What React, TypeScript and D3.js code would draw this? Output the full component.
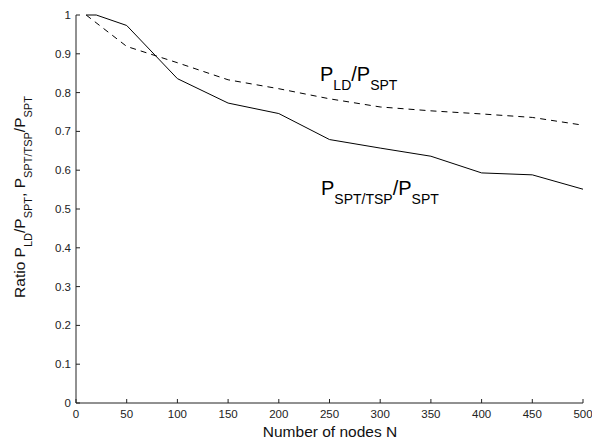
import React from "react";
import * as d3 from "d3";

const nodesSptTsp = [10, 20, 50, 100, 150, 200, 250, 300, 350, 400, 450, 500];
const ratioSptTsp = [1, 1, 0.973, 0.836, 0.773, 0.746, 0.679, 0.657, 0.636, 0.593, 0.588, 0.551];
const nodesLd = [10, 50, 100, 150, 200, 250, 300, 350, 400, 450, 500];
const ratioLd = [1, 0.919, 0.877, 0.833, 0.81, 0.784, 0.763, 0.753, 0.745, 0.736, 0.716];
const xTicks = [0, 50, 100, 150, 200, 250, 300, 350, 400, 450, 500];
const yTicks = [0, 0.1, 0.2, 0.3, 0.4, 0.5, 0.6, 0.7, 0.8, 0.9, 1];

const W = 592;
const H = 448;
const left = 76;
const right = 583;
const top = 15;
const bottom = 403;
const font = "'Liberation Sans', Arial, Helvetica, sans-serif";

export default function App() {
  const x = d3.scaleLinear().domain([0, 500]).range([left, right]);
  const y = d3.scaleLinear().domain([0, 1]).range([bottom, top]);
  const line = d3
    .line<[number, number]>()
    .x((d) => x(d[0]))
    .y((d) => y(d[1]));
  const solid = line(nodesSptTsp.map((n, i) => [n, ratioSptTsp[i]] as [number, number])) || "";
  const dashed = line(nodesLd.map((n, i) => [n, ratioLd[i]] as [number, number])) || "";
  const tickFmt = (v: number) => (v === 0 || v === 1 ? String(v) : d3.format(".1f")(v));
  const axisColor = "#222";

  return (
    <svg
      width={W}
      height={H}
      style={{ position: "absolute", left: 0, top: 0, background: "#fff" }}
      fontFamily={font}
    >
      <rect x={0} y={0} width={W} height={H} fill="#fff" />
      {/* axes */}
      <line x1={left} x2={left} y1={top} y2={bottom} stroke={axisColor} strokeWidth={1} />
      <line x1={left} x2={right} y1={bottom} y2={bottom} stroke={axisColor} strokeWidth={1} />
      {xTicks.map((t) => (
        <g key={"x" + t}>
          <line x1={x(t)} x2={x(t)} y1={bottom} y2={bottom - 4} stroke={axisColor} />
          <text x={x(t)} y={418} fontSize={11.5} textAnchor="middle" fill="#222">
            {t}
          </text>
        </g>
      ))}
      {yTicks.map((t) => (
        <g key={"y" + t}>
          <line x1={left} x2={left + 4} y1={y(t)} y2={y(t)} stroke={axisColor} />
          <text x={71} y={y(t) + 4} fontSize={11.5} textAnchor="end" fill="#222">
            {tickFmt(t)}
          </text>
        </g>
      ))}
      {/* lines */}
      <path d={solid} fill="none" stroke="#000" strokeWidth={1} />
      <path d={dashed} fill="none" stroke="#000" strokeWidth={1} strokeDasharray="6,5" />
      {/* annotations */}
      <text x={320} y={81} fontSize={20} fill="#000">
        P<tspan fontSize={14} dy={9}>LD</tspan>
        <tspan dy={-9}>/P</tspan>
        <tspan fontSize={14} dy={9}>SPT</tspan>
      </text>
      <text x={321} y={195} fontSize={20} fill="#000">
        P<tspan fontSize={14} dy={9}>SPT/TSP</tspan>
        <tspan dy={-9}>/P</tspan>
        <tspan fontSize={14} dy={9}>SPT</tspan>
      </text>
      {/* axis labels */}
      <text x={330} y={437} fontSize={15.5} textAnchor="middle" fill="#111">
        Number of nodes N
      </text>
      <text
        transform={`translate(25,197) rotate(-90)`}
        fontSize={15.5}
        textAnchor="middle"
        fill="#111"
      >
        Ratio P<tspan fontSize={11} dy={7}>LD</tspan>
        <tspan dy={-7}>/P</tspan>
        <tspan fontSize={11} dy={7}>SPT</tspan>
        <tspan dy={-7}>, P</tspan>
        <tspan fontSize={11} dy={7}>SPT/TSP</tspan>
        <tspan dy={-7}>/P</tspan>
        <tspan fontSize={11} dy={7}>SPT</tspan>
      </text>
    </svg>
  );
}
